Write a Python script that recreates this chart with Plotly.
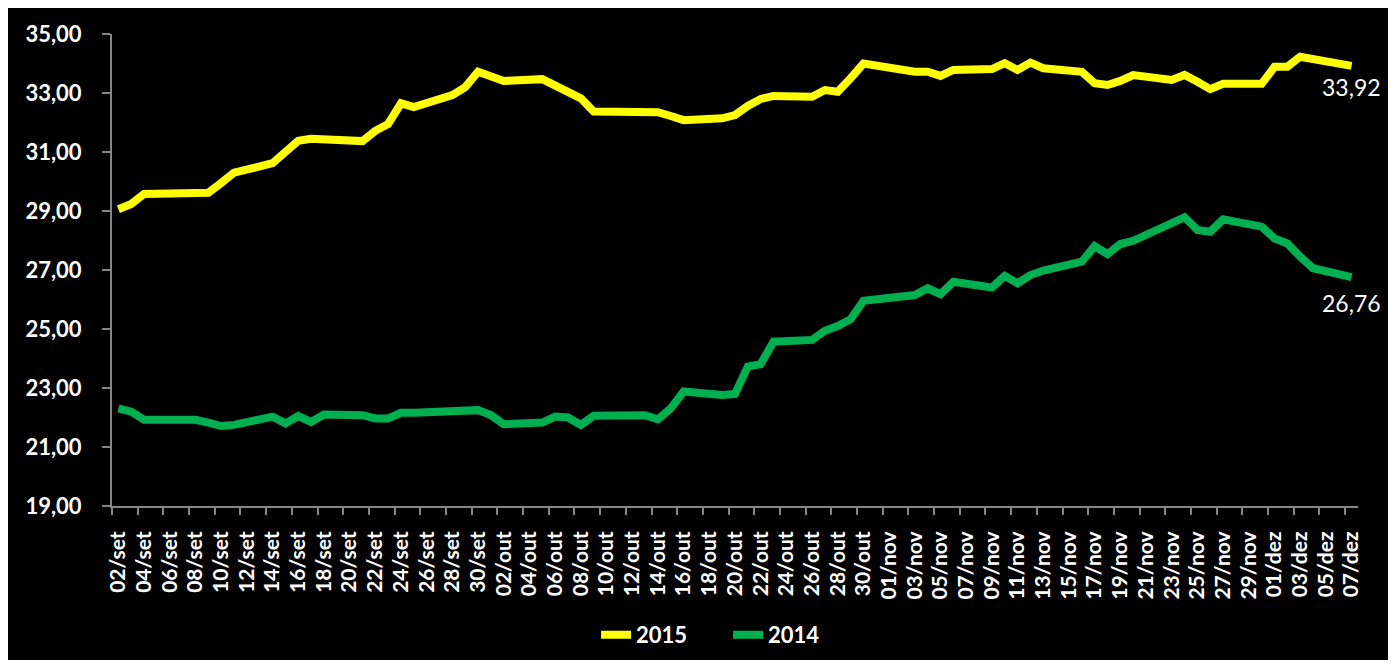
import pandas as pd
import plotly.graph_objects as go

# ---------------- data ----------------
dates = [
    "2015-09-02", "2015-09-03", "2015-09-04", "2015-09-08", "2015-09-09", "2015-09-10", "2015-09-11",
    "2015-09-14", "2015-09-15", "2015-09-16", "2015-09-17", "2015-09-18",
    "2015-09-21", "2015-09-22", "2015-09-23", "2015-09-24", "2015-09-25",
    "2015-09-28", "2015-09-29", "2015-09-30", "2015-10-01", "2015-10-02",
    "2015-10-05", "2015-10-06", "2015-10-07", "2015-10-08", "2015-10-09",
    "2015-10-13", "2015-10-14", "2015-10-15", "2015-10-16",
    "2015-10-19", "2015-10-20", "2015-10-21", "2015-10-22", "2015-10-23",
    "2015-10-26", "2015-10-27", "2015-10-28", "2015-10-29", "2015-10-30",
    "2015-11-03", "2015-11-04", "2015-11-05", "2015-11-06",
    "2015-11-09", "2015-11-10", "2015-11-11", "2015-11-12", "2015-11-13",
    "2015-11-16", "2015-11-17", "2015-11-18", "2015-11-19", "2015-11-20",
    "2015-11-23", "2015-11-24", "2015-11-25", "2015-11-26", "2015-11-27",
    "2015-11-30", "2015-12-01", "2015-12-02", "2015-12-03", "2015-12-04",
    "2015-12-07",
]

serie_2015 = [
    29.06, 29.24, 29.58, 29.61, 29.62, 29.95, 30.30,
    30.62, 31.00, 31.38, 31.45, 31.43,
    31.37, 31.72, 31.95, 32.65, 32.52,
    32.93, 33.20, 33.72, 33.55, 33.41,
    33.47, 33.24, 33.05, 32.82, 32.37,
    32.37, 32.35, 32.22, 32.08,
    32.14, 32.25, 32.56, 32.80, 32.90,
    32.87, 33.10, 33.04, 33.50, 34.00,
    33.72, 33.72, 33.58, 33.78,
    33.81, 34.01, 33.78, 34.03, 33.84,
    33.72, 33.33, 33.27, 33.41, 33.61,
    33.44, 33.61, 33.38, 33.13, 33.31,
    33.31, 33.89, 33.89, 34.23, 34.14,
    33.92,
]

serie_2014 = [
    22.31, 22.20, 21.92, 21.92, 21.83, 21.71, 21.75,
    22.03, 21.80, 22.05, 21.85, 22.10,
    22.08, 21.97, 21.97, 22.16, 22.16,
    22.18, 22.19, 22.25, 22.08, 21.77,
    21.83, 22.03, 22.00, 21.75, 22.06,
    22.08, 21.94, 22.31, 22.88,
    22.76, 22.80, 23.73, 23.81, 24.57,
    24.63, 24.94, 25.10, 25.33, 25.96,
    26.15, 26.38, 26.18, 26.60,
    26.41, 26.80, 26.55, 26.83, 26.98,
    27.28, 27.81, 27.54, 27.88, 27.99,
    28.64, 28.79, 28.36, 28.30, 28.72,
    28.47, 28.07, 27.90, 27.45, 27.06,
    26.76,
]

series_names = ["2015", "2014"]
meses = {9: "set", 10: "out", 11: "nov", 12: "dez"}
tick_dates = pd.date_range("2015-09-02", "2015-12-07", freq="2D")
tick_labels = [f"{d.day:02d}/{meses[d.month]}" for d in tick_dates]

# ---------------- styles ----------------
YELLOW = "#FFFF00"
GREEN = "#00B050"
AXIS_GRAY = "#868686"
FONT = "Lato"

fig = go.Figure()
fig.add_trace(go.Scatter(x=dates, y=serie_2015, mode="lines", name=series_names[0],
                         line=dict(color=YELLOW, width=8)))
fig.add_trace(go.Scatter(x=dates, y=serie_2014, mode="lines", name=series_names[1],
                         line=dict(color=GREEN, width=8)))

def fmt(v):
    return f"{v:.2f}".replace(".", ",")

fig.add_annotation(x=dates[-1], y=serie_2015[-1], text=fmt(serie_2015[-1]), showarrow=False,
                   yshift=-21, font=dict(family=FONT, size=23, color="white"))
fig.add_annotation(x=dates[-1], y=serie_2014[-1], text=fmt(serie_2014[-1]), showarrow=False,
                   yshift=-26, font=dict(family=FONT, size=23, color="white"))

fig.update_layout(
    width=1380, height=652,
    margin=dict(l=104, r=30, t=26, b=154, autoexpand=False),
    paper_bgcolor="black", plot_bgcolor="black",
    separators=", ",
    showlegend=True,
    legend=dict(orientation="h", x=0.3885, xanchor="left", y=-0.273, yanchor="middle",
                font=dict(family=FONT, size=22, color="white", weight="bold"),
                entrywidth=87, bgcolor="rgba(0,0,0,0)"),
    font=dict(family=FONT, color="white"),
)

fig.update_xaxes(
    type="date", automargin=False,
    range=["2015-09-01 12:00", "2015-12-07 12:00"],
    tickmode="array", tickvals=list(tick_dates), ticktext=tick_labels,
    tickangle=-90, ticks="outside", ticklen=15, tickcolor="rgba(0,0,0,0)",
    showgrid=False, zeroline=False,
    showline=True, linecolor=AXIS_GRAY, linewidth=2,
    tickfont=dict(family=FONT, size=21, color="white", weight="bold"),
    minor=dict(ticks="outside", ticklen=7, tickcolor=AXIS_GRAY, tickwidth=2,
               tick0="2015-09-01 12:00", dtick=2 * 86400000, showgrid=False),
)

fig.update_yaxes(
    range=[19, 35], dtick=2, tick0=19, tickformat=".2f", automargin=False,
    ticks="outside", ticklen=8, tickcolor=AXIS_GRAY, tickwidth=2,
    showgrid=False, zeroline=False,
    showline=True, linecolor=AXIS_GRAY, linewidth=2,
    tickfont=dict(family=FONT, size=22, color="white", weight="bold"),
    ticklabelstandoff=16,
)

fig.write_html("out.html")
